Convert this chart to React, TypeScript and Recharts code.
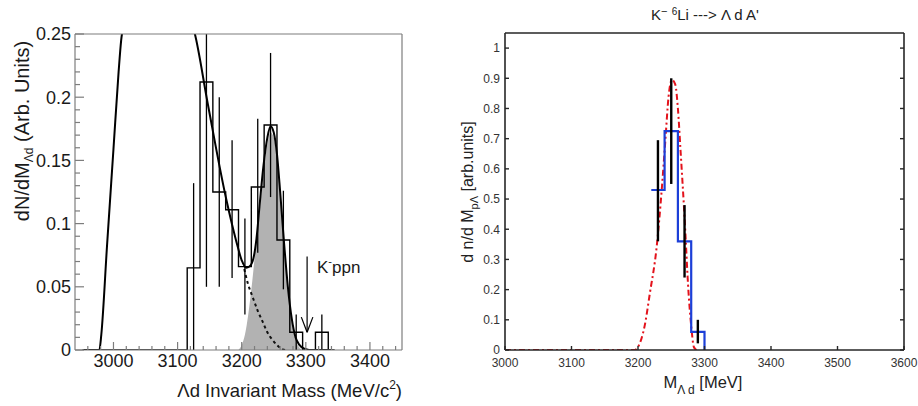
import React from 'react';
import { ComposedChart, Line, Area, Scatter, XAxis, YAxis, ErrorBar, ReferenceLine } from 'recharts';

const FONT = '"Liberation Sans", Arial, Helvetica, sans-serif';

// ---------- left panel: Λd invariant mass ----------
const leftXMajor = [3000, 3100, 3200, 3300, 3400];
const leftXLabels = ['3000', '3100', '3200', '3300', '3400'];
const leftXMinor = [2960, 2980, 3020, 3040, 3060, 3080, 3120, 3140, 3160, 3180, 3220, 3240, 3260, 3280, 3320, 3340, 3360, 3380, 3420, 3440];
const leftYMajor = [0, 0.05, 0.1, 0.15, 0.2, 0.25];
const leftYLabels = ['0', '0.05', '0.1', '0.15', '0.2', '0.25'];
const leftYMinor = [0.01, 0.02, 0.03, 0.04, 0.06, 0.07, 0.08, 0.09, 0.11, 0.12, 0.13, 0.14, 0.16, 0.17, 0.18, 0.19, 0.21, 0.22, 0.23, 0.24];

// histogram: low edge of each bin and its content
const histEdges = [2952, 3115, 3135, 3155, 3175, 3195, 3215, 3235, 3255, 3275, 3295, 3315, 3335, 3345];
const histVals = [0, 0.065, 0.212, 0.125, 0.111, 0.066, 0.129, 0.178, 0.087, 0.014, 0, 0.014, 0, 0];

// error bars at bin centres
const errX = [3125, 3145, 3165, 3185, 3205, 3225, 3245, 3265, 3285, 3325];
const errY = [0.065, 0.212, 0.125, 0.111, 0.066, 0.129, 0.178, 0.087, 0.014, 0.014];
const errLo = [0, 0.05, 0.05, 0.057, 0.028, 0.077, 0.121, 0.048, 0, 0];
const errHi = [0.132, 0.25, 0.2, 0.166, 0.104, 0.183, 0.235, 0.126, 0.028, 0.028];

// total fit (solid)
const fitX = [2952, 2978, 2981, 2990, 3000, 3008, 3012, 3016, 3030, 3070, 3110, 3127, 3147, 3176, 3191, 3200, 3207, 3212, 3218, 3223, 3228, 3234, 3240, 3245, 3250, 3255, 3260, 3266, 3272, 3278, 3284, 3290, 3298, 3305, 3340];
const fitY = [0, 0, 0.012, 0.083, 0.159, 0.22, 0.245, 0.258, 0.275, 0.29, 0.275, 0.25, 0.195, 0.119, 0.087, 0.071, 0.065, 0.066, 0.072, 0.088, 0.115, 0.146, 0.168, 0.177, 0.172, 0.155, 0.125, 0.085, 0.05, 0.025, 0.01, 0.004, 0.001, 0, 0];

// signal peak (gray)
const sigX = [3195, 3200, 3205, 3212, 3218, 3223, 3228, 3234, 3240, 3245, 3250, 3255, 3260, 3266, 3272, 3278, 3284, 3290, 3294];
const sigY = [0, 0.004, 0.012, 0.035, 0.062, 0.088, 0.11, 0.14, 0.163, 0.172, 0.168, 0.152, 0.122, 0.083, 0.048, 0.023, 0.008, 0.002, 0];

// background continuation (dashed)
const bgX = [3204, 3210, 3217, 3225, 3233, 3240, 3248, 3255, 3262, 3268];
const bgY = [0.064, 0.052, 0.042, 0.031, 0.022, 0.014, 0.008, 0.004, 0.001, 0];

// K-ppn marker
const arrowX = 3302;
const arrowTop = 0.074;
const arrowTip = 0.014;
const arrowHeadY = 0.026;
const arrowHeadHalf = 9;

// ---------- right panel: K- 6Li -> Λ d A' ----------
const rightXTicks = [3000, 3100, 3200, 3300, 3400, 3500, 3600];
const rightXLabels = ['3000', '3100', '3200', '3300', '3400', '3500', '3600'];
const rightYTicks = [0, 0.1, 0.2, 0.3, 0.4, 0.5, 0.6, 0.7, 0.8, 0.9, 1];
const rightYLabels = ['0', '0.1', '0.2', '0.3', '0.4', '0.5', '0.6', '0.7', '0.8', '0.9', '1'];

const blueEdges = [3220, 3240, 3260, 3280, 3300];
const blueVals = [0.53, 0.725, 0.36, 0.06, 0];

const rErrX = [3230, 3250, 3270, 3290];
const rErrY = [0.53, 0.725, 0.36, 0.06];
const rErrLo = [0.36, 0.55, 0.24, 0.022];
const rErrHi = [0.695, 0.9, 0.48, 0.1];

const redX = [3000, 3100, 3195, 3200, 3210, 3218, 3228, 3236, 3241, 3246, 3251, 3256, 3260, 3264, 3270, 3276, 3280, 3284, 3288];
const redY = [0, 0, 0, 0.01, 0.08, 0.19, 0.34, 0.54, 0.69, 0.84, 0.895, 0.88, 0.8, 0.66, 0.44, 0.19, 0.08, 0.01, 0];

const pts = (xs: number[], ys: number[]) => xs.map((x, i) => ({ x, y: ys[i] }));
const errPts = (xs: number[], ys: number[], lo: number[], hi: number[]) =>
  xs.map((x, i) => ({ x, y: ys[i], err: [ys[i] - lo[i], hi[i] - ys[i]] }));

const histData = pts(histEdges, histVals);
const fitData = pts(fitX, fitY);
const sigData = pts(sigX, sigY);
const bgData = pts(bgX, bgY);
const errData = errPts(errX, errY, errLo, errHi);

const blueData = pts(blueEdges, blueVals);
const redData = pts(redX, redY);
const rErrData = errPts(rErrX, rErrY, rErrLo, rErrHi);

type Side = 'left' | 'right' | 'top' | 'bottom';

const makeTick = (
  side: Side,
  majors: number[],
  labels: string[] | null,
  majorLen: number,
  minorLen: number,
  color: string,
  width: number,
  gap: number,
  fontSize: number,
  textColor: string
) => (props: any) => {
  const { x, y, payload } = props;
  const idx = majors.findIndex((m) => Math.abs(m - payload.value) < 1e-9);
  const len = idx >= 0 ? majorLen : minorLen;
  let l;
  if (side === 'left') l = { x1: x, x2: x + len, y1: y, y2: y };
  else if (side === 'right') l = { x1: x, x2: x - len, y1: y, y2: y };
  else if (side === 'bottom') l = { x1: x, x2: x, y1: y, y2: y - len };
  else l = { x1: x, x2: x, y1: y, y2: y + len };
  let label = null;
  if (labels && idx >= 0) {
    label =
      side === 'left' ? (
        <text x={x - gap} y={y} dy="0.36em" textAnchor="end" fontSize={fontSize} fill={textColor} fontFamily={FONT}>
          {labels[idx]}
        </text>
      ) : (
        <text x={x} y={y + gap} dy="0.71em" textAnchor="middle" fontSize={fontSize} fill={textColor} fontFamily={FONT}>
          {labels[idx]}
        </text>
      );
  }
  return (
    <g>
      <line {...l} stroke={color} strokeWidth={width} />
      {label}
    </g>
  );
};

const noDot = () => <g />;

const leftFrame = '#7d7d7d';
const rightFrame = '#262626';

function LeftPanel() {
  return (
    <ComposedChart width={420} height={406} margin={{ top: 33, right: 17, bottom: 0, left: 0 }}>
      <XAxis
        xAxisId="x"
        type="number"
        dataKey="x"
        domain={[2940, 3450]}
        ticks={[...leftXMinor, ...leftXMajor]}
        allowDataOverflow
        interval={0}
        height={56}
        tickSize={0}
        tickMargin={0}
        tickLine={false}
        axisLine={{ stroke: leftFrame, strokeWidth: 1.2 }}
        tick={makeTick('bottom', leftXMajor, leftXLabels, 8, 4, leftFrame, 1.2, 4, 18, '#1a1a1a')}
      />
      <XAxis xAxisId="top" orientation="top" type="number" domain={[2940, 3450]} allowDataOverflow height={1} tick={false} tickLine={false} axisLine={{ stroke: leftFrame, strokeWidth: 1.2 }} />
      <YAxis
        yAxisId="y"
        type="number"
        domain={[0, 0.25]}
        ticks={[...leftYMinor, ...leftYMajor]}
        allowDataOverflow
        interval={0}
        width={75}
        tickSize={0}
        tickMargin={0}
        tickLine={false}
        axisLine={{ stroke: leftFrame, strokeWidth: 1.2 }}
        tick={makeTick('left', leftYMajor, leftYLabels, 9, 5, leftFrame, 1.2, 4, 18, '#1a1a1a')}
      />
      <YAxis yAxisId="yr" orientation="right" type="number" domain={[0, 0.25]} allowDataOverflow width={1} tick={false} tickLine={false} axisLine={{ stroke: leftFrame, strokeWidth: 1.2 }} />

      <Area xAxisId="x" yAxisId="y" data={sigData} dataKey="y" type="monotone" fill="#b2b2b2" fillOpacity={1} stroke="none" isAnimationActive={false} />
      <Line xAxisId="x" yAxisId="y" data={bgData} dataKey="y" type="monotone" stroke="#111" strokeWidth={2} strokeDasharray="3 3" dot={false} isAnimationActive={false} />
      <Line xAxisId="x" yAxisId="y" data={histData} dataKey="y" type="stepAfter" stroke="#000" strokeWidth={1.4} dot={false} isAnimationActive={false} />
      <Line xAxisId="x" yAxisId="y" data={fitData} dataKey="y" type="monotone" stroke="#000" strokeWidth={2} dot={false} isAnimationActive={false} />
      <Scatter xAxisId="x" yAxisId="y" data={errData} dataKey="y" shape={noDot} isAnimationActive={false}>
        <ErrorBar dataKey="err" direction="y" width={0} stroke="#000" strokeWidth={1.3} isAnimationActive={false} />
      </Scatter>
      <ReferenceLine xAxisId="x" yAxisId="y" segment={[{ x: arrowX, y: arrowTop }, { x: arrowX, y: arrowTip }]} stroke="#000" strokeWidth={1.2} ifOverflow="visible" />
      <ReferenceLine xAxisId="x" yAxisId="y" segment={[{ x: arrowX - arrowHeadHalf, y: arrowHeadY }, { x: arrowX, y: arrowTip }]} stroke="#000" strokeWidth={1.2} ifOverflow="visible" />
      <ReferenceLine xAxisId="x" yAxisId="y" segment={[{ x: arrowX + arrowHeadHalf, y: arrowHeadY }, { x: arrowX, y: arrowTip }]} stroke="#000" strokeWidth={1.2} ifOverflow="visible" />
    </ComposedChart>
  );
}

function RightPanel() {
  return (
    <ComposedChart width={498} height={406} margin={{ top: 32, right: 13, bottom: 0, left: 0 }}>
      <XAxis
        xAxisId="x"
        type="number"
        dataKey="x"
        domain={[3000, 3600]}
        ticks={rightXTicks}
        allowDataOverflow
        interval={0}
        height={56}
        tickSize={0}
        tickMargin={0}
        tickLine={false}
        axisLine={{ stroke: rightFrame, strokeWidth: 1.6 }}
        tick={makeTick('bottom', rightXTicks, rightXLabels, 4, 4, rightFrame, 1.4, 8, 12, '#333')}
      />
      <XAxis
        xAxisId="top"
        orientation="top"
        type="number"
        domain={[3000, 3600]}
        ticks={rightXTicks}
        allowDataOverflow
        interval={0}
        height={1}
        tickSize={0}
        tickMargin={0}
        tickLine={false}
        axisLine={{ stroke: rightFrame, strokeWidth: 1.6 }}
        tick={makeTick('top', rightXTicks, null, 4, 4, rightFrame, 1.4, 0, 12, '#333')}
      />
      <YAxis
        yAxisId="y"
        type="number"
        domain={[0, 1.05]}
        ticks={rightYTicks}
        allowDataOverflow
        interval={0}
        width={85}
        tickSize={0}
        tickMargin={0}
        tickLine={false}
        axisLine={{ stroke: rightFrame, strokeWidth: 1.6 }}
        tick={makeTick('left', rightYTicks, rightYLabels, 4, 4, rightFrame, 1.4, 5, 12, '#333')}
      />
      <YAxis
        yAxisId="yr"
        orientation="right"
        type="number"
        domain={[0, 1.05]}
        ticks={rightYTicks}
        allowDataOverflow
        interval={0}
        width={1}
        tickSize={0}
        tickMargin={0}
        tickLine={false}
        axisLine={{ stroke: rightFrame, strokeWidth: 1.6 }}
        tick={makeTick('right', rightYTicks, null, 4, 4, rightFrame, 1.4, 0, 12, '#333')}
      />

      <Line xAxisId="x" yAxisId="y" data={redData} dataKey="y" type="monotone" stroke="#e3121b" strokeWidth={2} strokeDasharray="6 3 2 3" dot={false} isAnimationActive={false} />
      <Line xAxisId="x" yAxisId="y" data={blueData} dataKey="y" type="stepAfter" stroke="#1c3fd8" strokeWidth={2.2} dot={false} isAnimationActive={false} />
      <Scatter xAxisId="x" yAxisId="y" data={rErrData} dataKey="y" shape={noDot} isAnimationActive={false}>
        <ErrorBar dataKey="err" direction="y" width={0} stroke="#000" strokeWidth={2.4} isAnimationActive={false} />
      </Scatter>
    </ComposedChart>
  );
}

export default function App() {
  return (
    <div style={{ position: 'absolute', left: 0, top: 0, width: 918, height: 406, background: '#fff', fontFamily: FONT }}>
      <div style={{ position: 'absolute', left: 0, top: 0 }}>
        <LeftPanel />
      </div>
      <div style={{ position: 'absolute', left: 420, top: 0 }}>
        <RightPanel />
      </div>
      <svg width={918} height={406} style={{ position: 'absolute', left: 0, top: 0, pointerEvents: 'none' }} fontFamily={FONT}>
        {/* left panel titles */}
        <text transform="translate(29,131) rotate(-90)" textAnchor="middle" fontSize={20} fill="#1a1a1a">
          dN/dM<tspan fontSize={12} dy={4}>Λd</tspan>
          <tspan dy={-4}> (Arb. Units)</tspan>
        </text>
        <text x={402} y={397} textAnchor="end" fontSize={18.5} fill="#1a1a1a">
          Λd Invariant Mass (MeV/c<tspan fontSize={12} dy={-8}>2</tspan>
          <tspan dy={8}>)</tspan>
        </text>
        <text x={317} y={273} fontSize={17} fill="#1a1a1a">
          K<tspan fontSize={11} dy={-8}>-</tspan>
          <tspan dy={8}>ppn</tspan>
        </text>
        {/* right panel titles */}
        <text x={705} y={20} textAnchor="middle" fontSize={15} fill="#222">
          K<tspan fontSize={11} dy={-5}>−</tspan>
          <tspan dy={5}> </tspan>
          <tspan fontSize={10} dy={-5}>6</tspan>
          <tspan dy={5}>Li ---&gt; Λ d A'</tspan>
        </text>
        <text transform="translate(473,192) rotate(-90)" textAnchor="middle" fontSize={16} fill="#222">
          d n/d M<tspan fontSize={11} dy={5}>pΛ</tspan>
          <tspan dy={-5}> [arb.units]</tspan>
        </text>
        <text x={703} y={388} textAnchor="middle" fontSize={16.5} fill="#222">
          M<tspan fontSize={12} dy={6}>Λ d</tspan>
          <tspan dy={-6}> [MeV]</tspan>
        </text>
      </svg>
    </div>
  );
}
